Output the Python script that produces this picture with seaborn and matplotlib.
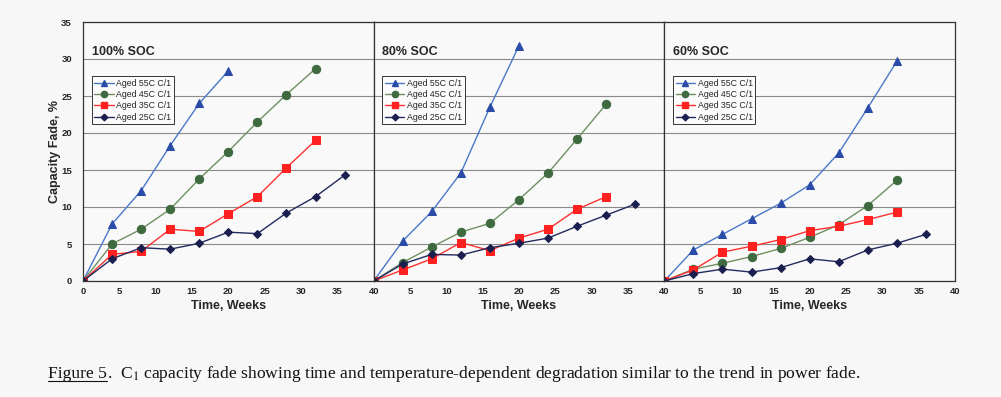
import matplotlib
matplotlib.use("Agg")
import matplotlib.pyplot as plt
import seaborn as sns
import pandas as pd
from matplotlib.lines import Line2D

sns.set_theme(style="white")
plt.rcParams['font.family'] = ['Liberation Sans', 'DejaVu Sans']
plt.rcParams['mathtext.fontset'] = 'stix'

# ---------------- data ----------------
weeks = [0, 4, 8, 12, 16, 20, 24, 28, 32, 36]
series_names = ["Aged 55C C/1", "Aged 45C C/1", "Aged 35C C/1", "Aged 25C C/1"]
panel_titles = ["100% SOC", "80% SOC", "60% SOC"]
x_ticks = [0, 5, 10, 15, 20, 25, 30, 35, 40]
y_ticks = [0, 5, 10, 15, 20, 25, 30, 35]

soc100_55 = [0, 7.7, 12.2, 18.3, 24.0, 28.4]
soc100_45 = [0, 5.0, 7.0, 9.7, 13.8, 17.5, 21.5, 25.2, 28.7]
soc100_35 = [0, 3.6, 4.0, 7.0, 6.7, 9.1, 11.4, 15.3, 19.0]
soc100_25 = [0, 3.0, 4.5, 4.3, 5.1, 6.6, 6.4, 9.2, 11.4, 14.3]

soc80_55 = [0, 5.4, 9.4, 14.6, 23.5, 31.8]
soc80_45 = [0, 2.5, 4.6, 6.6, 7.8, 11.0, 14.6, 19.2, 23.9]
soc80_35 = [0, 1.5, 3.0, 5.2, 4.1, 5.8, 7.0, 9.7, 11.4]
soc80_25 = [0, 2.3, 3.6, 3.5, 4.5, 5.1, 5.8, 7.4, 8.9, 10.4]

soc60_55 = [0, 4.2, 6.3, 8.4, 10.5, 13.0, 17.3, 23.4, 29.7]
soc60_45 = [0, 1.6, 2.4, 3.3, 4.4, 5.9, 7.6, 10.2, 13.6]
soc60_35 = [0, 1.5, 3.9, 4.7, 5.6, 6.8, 7.4, 8.3, 9.3]
soc60_25 = [0, 1.0, 1.6, 1.2, 1.8, 3.0, 2.6, 4.2, 5.1, 6.3]

panels = [
    [soc100_55, soc100_45, soc100_35, soc100_25],
    [soc80_55, soc80_45, soc80_35, soc80_25],
    [soc60_55, soc60_45, soc60_35, soc60_25],
]

# ---------------- styles ----------------
line_colors = ["#4a78c8", "#6f8f62", "#ff3030", "#222a5e"]
marker_colors = ["#2a4ca8", "#3f6a3f", "#ff2020", "#1a1f50"]
markers = ["^", "o", "s", "D"]
msizes = [5.5, 6, 5.5, 4.5]

bg = "#f7f7f7"
fig = plt.figure(figsize=(10.01, 3.97), dpi=100, facecolor=bg)
W, H = 1001, 397
left, right = 83, 955
bottom, top = 281, 22
pw = (right - left) / 3

for i in range(3):
    ax = fig.add_axes([(left + i * pw) / W, 1 - bottom / H, pw / W, (bottom - top) / H])
    ax.set_facecolor("#f9f9f9")
    for j, vals in enumerate(panels[i]):
        df = pd.DataFrame({"Weeks": weeks[:len(vals)], "Fade": vals})
        sns.lineplot(data=df, x="Weeks", y="Fade", ax=ax, color=line_colors[j],
                     linewidth=1.0, marker=markers[j], markersize=msizes[j],
                     markerfacecolor=marker_colors[j], markeredgecolor=marker_colors[j],
                     label=series_names[j], legend=False)
    ax.set_xlim(0, 40)
    ax.set_ylim(0, 35)
    ax.set_xticks(x_ticks)
    # the shared boundary shows one label (the "40" of the left panel sits on the "0" of the next)
    ax.set_xticklabels([("" if (i > 0 and v == 0) else str(v)) for v in x_ticks])
    ax.set_yticks(y_ticks)
    ax.yaxis.grid(True, color="#8a8a8a", linewidth=0.8)
    ax.xaxis.grid(False)
    ax.set_axisbelow(True)
    for s in ax.spines.values():
        s.set_color("#333333")
        s.set_linewidth(0.9)
    ax.tick_params(axis="x", labelsize=6.8, length=0, pad=4)
    for t in ax.get_xticklabels():
        t.set_fontweight("bold")
    if i == 0:
        ax.tick_params(axis="y", labelsize=6.8, length=0, pad=8)
        for t in ax.get_yticklabels():
            t.set_fontweight("bold")
        ax.set_ylabel("Capacity Fade, %", fontsize=9, fontweight="bold", labelpad=0)
    else:
        ax.tick_params(axis="y", labelleft=False, length=0)
        ax.set_ylabel("")
    ax.set_xlabel("Time, Weeks", fontsize=9, fontweight="bold", labelpad=3)
    ax.text(0.03, 0.885, panel_titles[i], transform=ax.transAxes, fontsize=9,
            fontweight="bold", va="center", ha="left")
    handles = [Line2D([], [], color=line_colors[j], marker=markers[j],
                      markersize=msizes[j] * 0.75, markerfacecolor=marker_colors[j],
                      markeredgecolor=marker_colors[j], linewidth=1.0)
               for j in range(4)]
    leg = ax.legend(handles, series_names, loc="upper left",
                    bbox_to_anchor=(0.03, 0.79), fontsize=6.3, frameon=True,
                    fancybox=False, framealpha=1, edgecolor="#333333",
                    handlelength=2.2, handletextpad=0.3, borderpad=0.3,
                    labelspacing=0.25, borderaxespad=0)
    leg.get_frame().set_linewidth(0.7)
    leg.get_frame().set_facecolor("#fbfbfb")

# ---------------- caption ----------------
cap_y = 1 - 378 / H
t1 = fig.text(48 / W, cap_y, "Figure 5", fontsize=12.6, family="Liberation Serif",
              color="#111111", va="baseline")
fig.canvas.draw()
r = fig.canvas.get_renderer()
bb = t1.get_window_extent(r)
x_end = bb.x1 / W
fig.text(x_end, cap_y,
         r".  C$_1$ capacity fade showing time and temperature-dependent degradation similar to the trend in power fade.",
         fontsize=12.6, family="Liberation Serif", color="#111111", va="baseline")
fig.add_artist(Line2D([48 / W, x_end], [cap_y - 3 / H, cap_y - 3 / H],
                      color="#111111", linewidth=0.8, transform=fig.transFigure))

fig.savefig("out.png", dpi=100, facecolor=bg)
